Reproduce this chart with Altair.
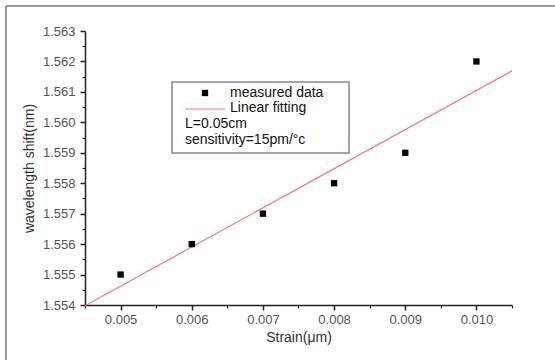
import altair as alt
import pandas as pd

# Data
strain = [0.005, 0.006, 0.007, 0.008, 0.009, 0.010]
wavelength = [1.555, 1.556, 1.557, 1.558, 1.559, 1.562]
x_ticks = [0.005, 0.006, 0.007, 0.008, 0.009, 0.010]
x_minor = [0.0045, 0.0055, 0.0065, 0.0075, 0.0085, 0.0095, 0.0105]
y_ticks = [1.554, 1.555, 1.556, 1.557, 1.558, 1.559, 1.560, 1.561, 1.562, 1.563]
y_minor = [1.5545, 1.5555, 1.5565, 1.5575, 1.5585, 1.5595, 1.5605, 1.5615, 1.5625]
legend_labels = ["measured data", "Linear fitting", "L=0.05cm", "sensitivity=15pm/\u00b0c"]

df = pd.DataFrame({"strain": strain, "wl": wavelength})

FONT = "Liberation Sans"
W, H = 427, 274
xs = alt.Scale(domain=[0.0045, 0.0105], nice=False, zero=False)
ys = alt.Scale(domain=[1.554, 1.563], nice=False, zero=False)

x_axis = alt.Axis(values=x_ticks, format=".3f", orient="bottom", title="Strain(\u03bcm)",
                  grid=False, domainColor="#222", domainWidth=1.5, tickColor="#222",
                  tickWidth=1.5, tickSize=5, labelFont=FONT, labelFontSize=13,
                  labelColor="#555", labelPadding=3, titleFont=FONT, titleFontSize=14,
                  titleFontWeight="normal", titleColor="#333", titlePadding=4)
y_axis = alt.Axis(values=y_ticks, format=".3f", orient="left", title="wavelength shift(nm)",
                  grid=False, domainColor="#222", domainWidth=1.5, tickColor="#222",
                  tickWidth=1.5, tickSize=5, labelFont=FONT, labelFontSize=13,
                  labelColor="#555", labelPadding=5, titleFont=FONT, titleFontSize=14,
                  titleFontWeight="normal", titleColor="#333", titlePadding=6)

points = alt.Chart(df).mark_square(size=40, color="black", opacity=1).encode(
    x=alt.X("strain:Q", scale=xs, axis=x_axis),
    y=alt.Y("wl:Q", scale=ys, axis=y_axis),
)

fit = alt.Chart(df).transform_regression(
    "strain", "wl", extent=[0.0045, 0.0105]
).mark_line(color="#f47a7a", strokeWidth=1.2).encode(
    x=alt.X("strain:Q", scale=xs, axis=None),
    y=alt.Y("wl:Q", scale=ys, axis=None),
)

minor = alt.Chart(df).mark_point(opacity=0).encode(
    x=alt.X("strain:Q", scale=xs, axis=alt.Axis(values=x_minor, orient="bottom", labels=False,
                                                  domain=False, grid=False, tickSize=3,
                                                  tickColor="#222", tickWidth=1.2, title=None)),
    y=alt.Y("wl:Q", scale=ys, axis=alt.Axis(values=y_minor, orient="left", labels=False,
                                              domain=False, grid=False, tickSize=3,
                                              tickColor="#222", tickWidth=1.2, title=None)),
)

one = pd.DataFrame({"k": [0]})

box = alt.Chart(one).mark_rect(fill="white", stroke="#888", strokeWidth=1.5).encode(
    x=alt.value(87), x2=alt.value(264), y=alt.value(51), y2=alt.value(122)
)
sym = alt.Chart(one).mark_square(size=40, color="black", opacity=1).encode(
    x=alt.value(120), y=alt.value(62)
)
line_sym = alt.Chart(one).mark_rule(color="#f47a7a", strokeWidth=1.2).encode(
    x=alt.value(100), x2=alt.value(140), y=alt.value(78)
)

def label(txt, x, y):
    return alt.Chart(one).mark_text(align="left", baseline="middle", font=FONT,
                                    fontSize=14, color="#111").encode(
        x=alt.value(x), y=alt.value(y), text=alt.value(txt))

frame_top = alt.Chart(one).mark_rule(color="#999", strokeWidth=2).encode(
    x=alt.value(-79), x2=alt.value(480), y=alt.value(-25)
)
frame_left = alt.Chart(one).mark_rule(color="#999", strokeWidth=2).encode(
    x=alt.value(-79), y=alt.value(-25), y2=alt.value(340)
)

chart = alt.layer(
    frame_top, frame_left,
    minor, fit, points,
    box, sym, line_sym,
    label(legend_labels[0], 145, 62),
    label(legend_labels[1], 145, 77),
    label(legend_labels[2], 100, 93),
    label(legend_labels[3], 100, 109),
).resolve_axis(x="independent", y="independent").properties(
    width=W, height=H,
    autosize=alt.AutoSizeParams(type="none"),
    padding={"left": 85, "top": 31, "right": 43, "bottom": 55},
    background="white",
).configure_view(strokeWidth=0)

chart.save("out.html", embed_options={"renderer": "svg", "actions": False})
